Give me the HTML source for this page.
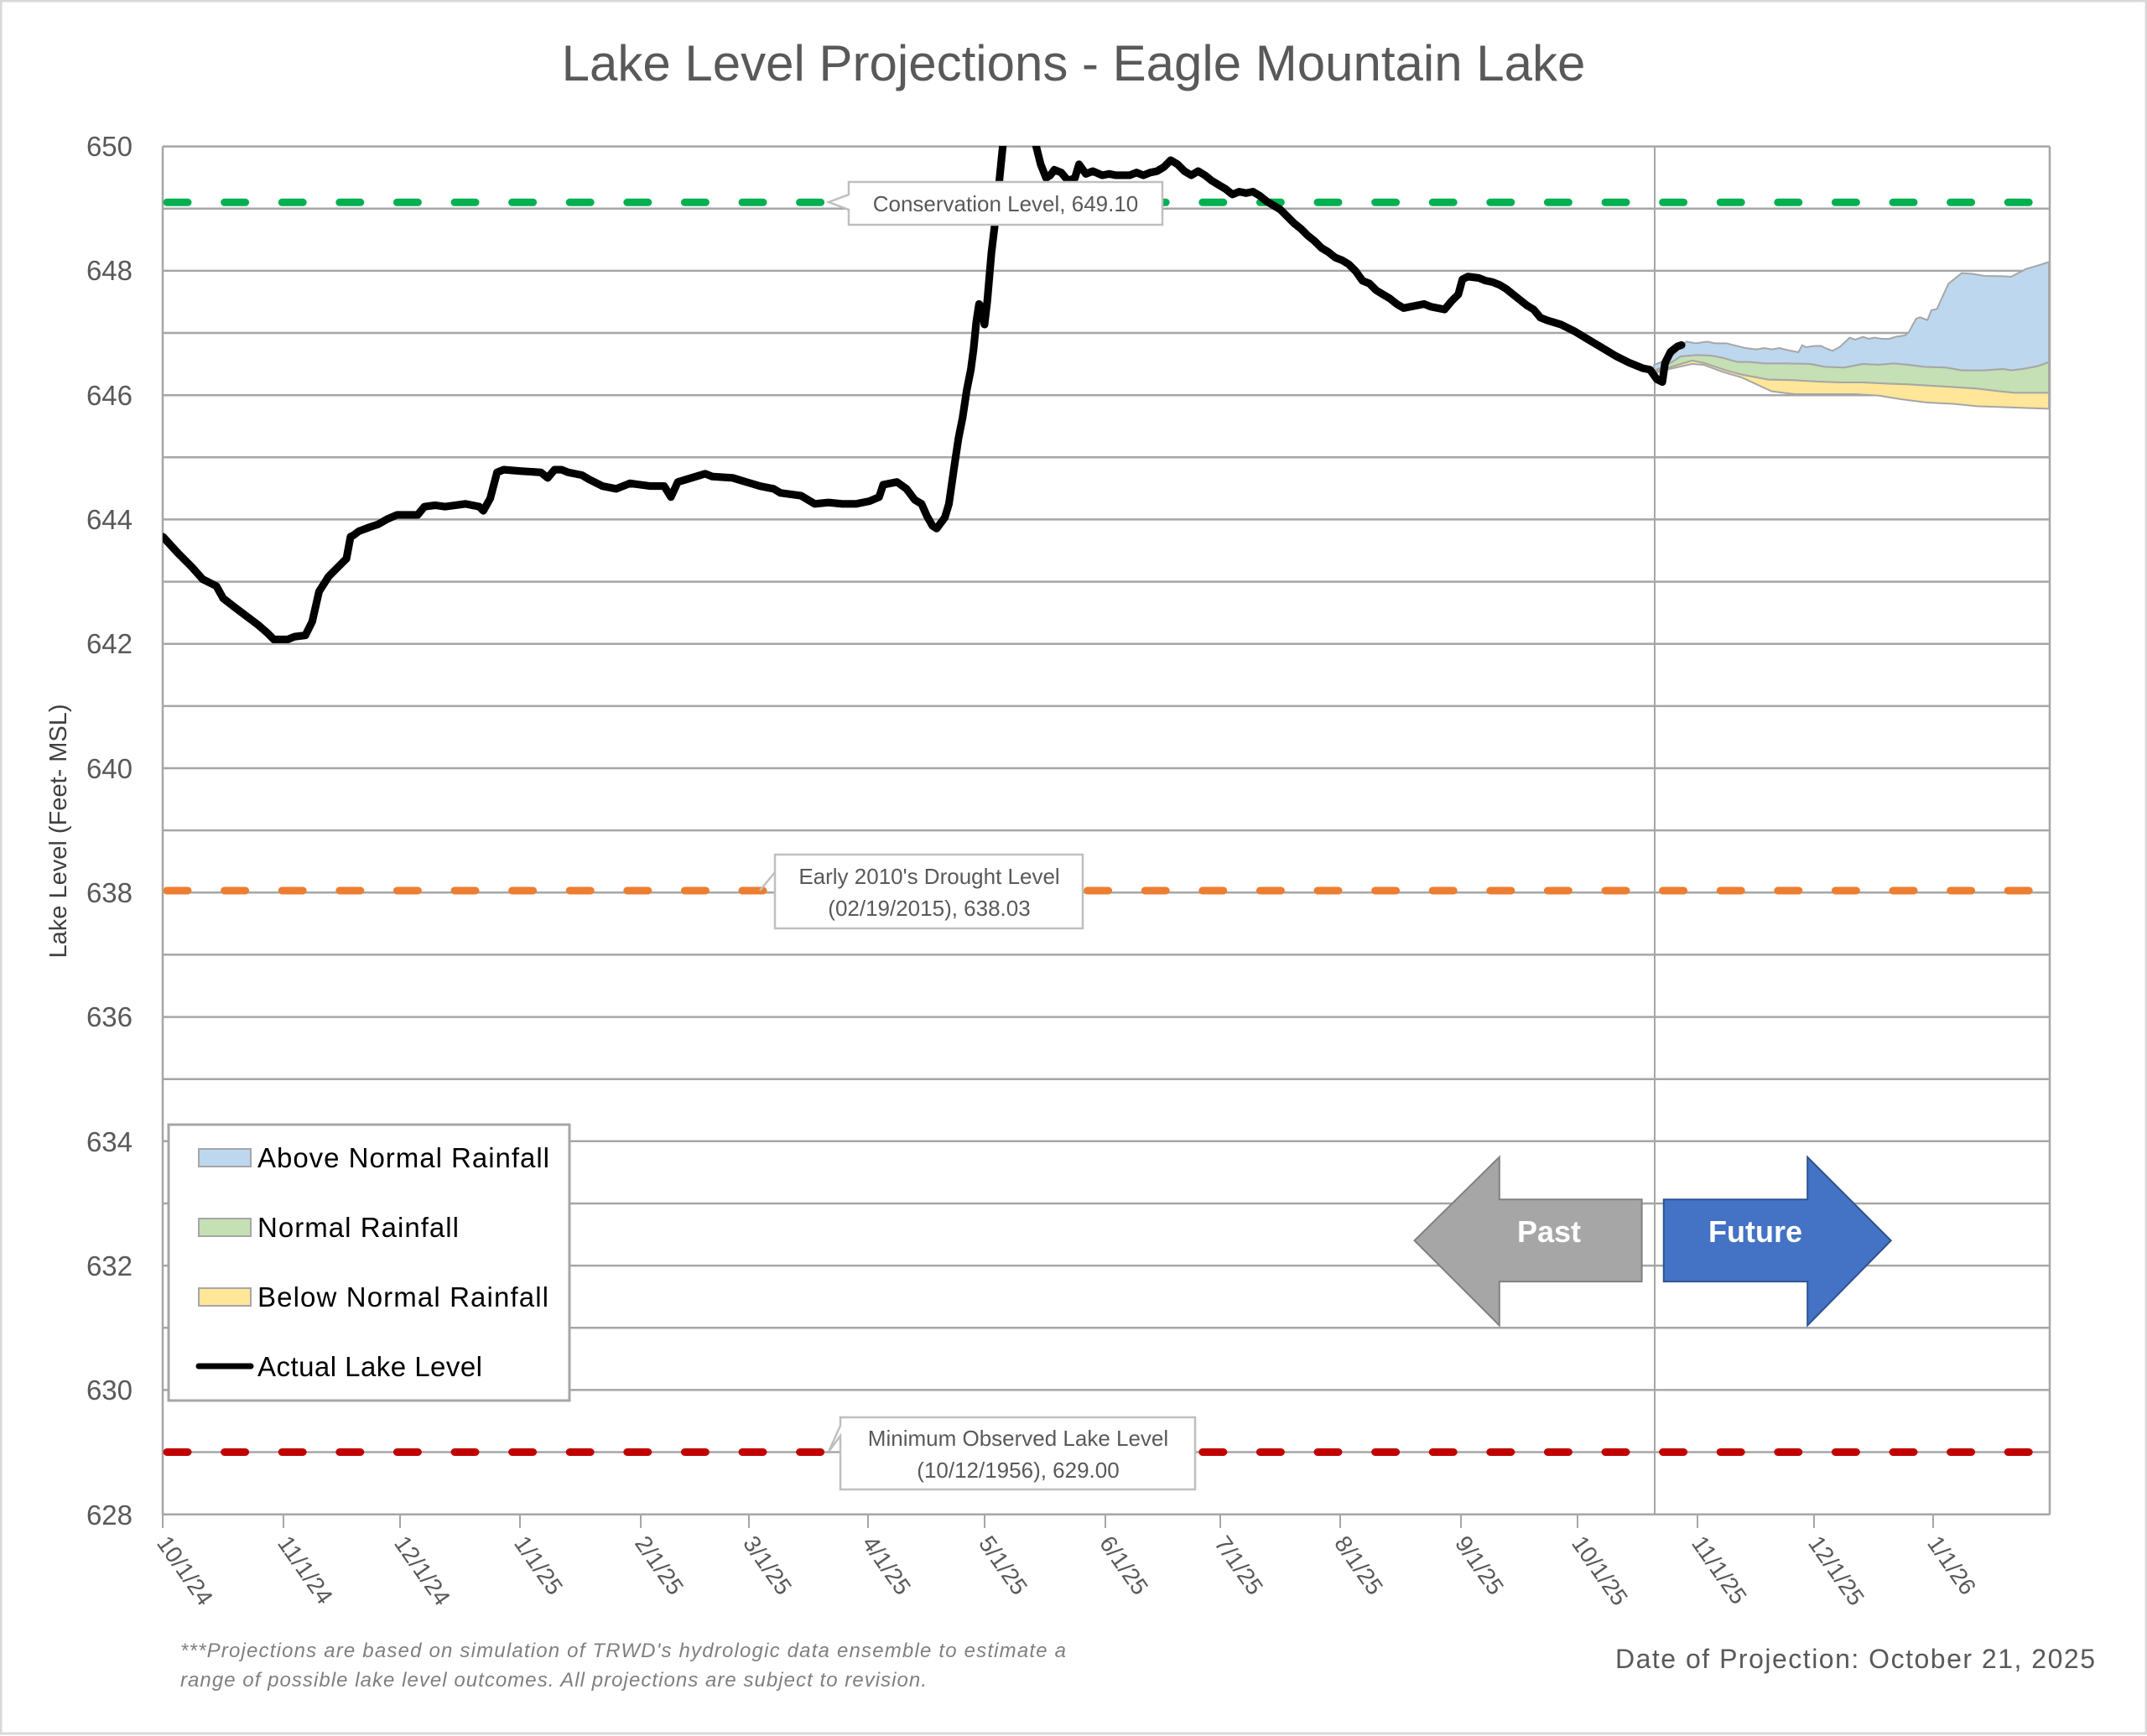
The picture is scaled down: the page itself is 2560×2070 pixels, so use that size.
<!DOCTYPE html>
<html><head><meta charset="utf-8"><style>
html,body{margin:0;padding:0;background:#fff}
svg{display:block}
text{font-family:"Liberation Sans",sans-serif}
</style></head><body>
<svg width="2560" height="2070" viewBox="0 0 2560 2070" xmlns="http://www.w3.org/2000/svg">
<rect x="1" y="1" width="2558" height="2066" fill="#fff" stroke="#d9d9d9" stroke-width="3"/>
<text x="1280" y="96" font-size="60" fill="#595959" text-anchor="middle">Lake Level Projections - Eagle Mountain Lake</text>
<defs><clipPath id="pc"><rect x="194" y="174" width="2250" height="1634"/></clipPath></defs>
<g stroke="#a6a6a6" stroke-width="2.5">
<line x1="194" x2="2444" y1="174.6" y2="174.6"/><line x1="194" x2="2444" y1="248.7" y2="248.7"/>
<line x1="194" x2="2444" y1="322.9" y2="322.9"/><line x1="194" x2="2444" y1="397" y2="397"/>
<line x1="194" x2="2444" y1="471.2" y2="471.2"/><line x1="194" x2="2444" y1="545.3" y2="545.3"/>
<line x1="194" x2="2444" y1="619.4" y2="619.4"/><line x1="194" x2="2444" y1="693.6" y2="693.6"/>
<line x1="194" x2="2444" y1="767.7" y2="767.7"/><line x1="194" x2="2444" y1="841.9" y2="841.9"/>
<line x1="194" x2="2444" y1="916" y2="916"/><line x1="194" x2="2444" y1="990.1" y2="990.1"/>
<line x1="194" x2="2444" y1="1064.3" y2="1064.3"/><line x1="194" x2="2444" y1="1138.4" y2="1138.4"/>
<line x1="194" x2="2444" y1="1212.6" y2="1212.6"/><line x1="194" x2="2444" y1="1286.7" y2="1286.7"/>
<line x1="194" x2="2444" y1="1360.8" y2="1360.8"/><line x1="194" x2="2444" y1="1435" y2="1435"/>
<line x1="194" x2="2444" y1="1509.1" y2="1509.1"/><line x1="194" x2="2444" y1="1583.3" y2="1583.3"/>
<line x1="194" x2="2444" y1="1657.4" y2="1657.4"/><line x1="194" x2="2444" y1="1731.5" y2="1731.5"/>
<line x1="194" x2="2444" y1="1805.7" y2="1805.7"/>
<line x1="194" x2="194" y1="174.6" y2="1806"/><line x1="2444" x2="2444" y1="174.6" y2="1806"/>
<line x1="1973" x2="1973" y1="174.6" y2="1806" stroke-width="2"/>
</g>
<g stroke="#a6a6a6" stroke-width="2">
<line x1="194" x2="194" y1="1806" y2="1822"/><line x1="338" x2="338" y1="1806" y2="1822"/>
<line x1="477" x2="477" y1="1806" y2="1822"/><line x1="620" x2="620" y1="1806" y2="1822"/>
<line x1="764" x2="764" y1="1806" y2="1822"/><line x1="893" x2="893" y1="1806" y2="1822"/>
<line x1="1035" x2="1035" y1="1806" y2="1822"/><line x1="1174" x2="1174" y1="1806" y2="1822"/>
<line x1="1318" x2="1318" y1="1806" y2="1822"/><line x1="1455" x2="1455" y1="1806" y2="1822"/>
<line x1="1598" x2="1598" y1="1806" y2="1822"/><line x1="1742" x2="1742" y1="1806" y2="1822"/>
<line x1="1881" x2="1881" y1="1806" y2="1822"/><line x1="2024" x2="2024" y1="1806" y2="1822"/>
<line x1="2163" x2="2163" y1="1806" y2="1822"/><line x1="2305" x2="2305" y1="1806" y2="1822"/>
</g>
<g font-size="33" fill="#595959" text-anchor="end">
<text x="158" y="186">650</text><text x="158" y="334">648</text><text x="158" y="483">646</text>
<text x="158" y="631">644</text><text x="158" y="779">642</text><text x="158" y="928">640</text>
<text x="158" y="1076">638</text><text x="158" y="1224">636</text><text x="158" y="1373">634</text>
<text x="158" y="1521">632</text><text x="158" y="1669">630</text><text x="158" y="1818">628</text>
</g>
<text transform="translate(79,991) rotate(-90)" font-size="29" fill="#404040" text-anchor="middle">Lake Level (Feet- MSL)</text>
<g font-size="28" fill="#595959">
<text transform="translate(186,1840) rotate(55)">10/1/24</text>
<text transform="translate(330,1840) rotate(55)">11/1/24</text>
<text transform="translate(469,1840) rotate(55)">12/1/24</text>
<text transform="translate(612,1840) rotate(55)">1/1/25</text>
<text transform="translate(756,1840) rotate(55)">2/1/25</text>
<text transform="translate(885,1840) rotate(55)">3/1/25</text>
<text transform="translate(1027,1840) rotate(55)">4/1/25</text>
<text transform="translate(1166,1840) rotate(55)">5/1/25</text>
<text transform="translate(1310,1840) rotate(55)">6/1/25</text>
<text transform="translate(1447,1840) rotate(55)">7/1/25</text>
<text transform="translate(1590,1840) rotate(55)">8/1/25</text>
<text transform="translate(1734,1840) rotate(55)">9/1/25</text>
<text transform="translate(1873,1840) rotate(55)">10/1/25</text>
<text transform="translate(2016,1840) rotate(55)">11/1/25</text>
<text transform="translate(2155,1840) rotate(55)">12/1/25</text>
<text transform="translate(2297,1840) rotate(55)">1/1/26</text>
</g>
<g stroke-width="9" stroke-linecap="round" stroke-dasharray="25 43.6" fill="none">
<line x1="199" x2="2440" y1="241.3" y2="241.3" stroke="#00b050"/>
<line x1="199" x2="2440" y1="1062" y2="1062" stroke="#ed7d31"/>
<line x1="199" x2="2440" y1="1731.5" y2="1731.5" stroke="#c00000"/>
</g>
<g transform="translate(1850,250) scale(0.45281,0.33333)" stroke="#a6a6a6" stroke-width="2">
<path vector-effect="non-scaling-stroke" fill="#bdd7ee" d="M270,555 290,545 320,520 355,472 380,478 410,472 430,478 460,478 490,488 510,495 540,500 560,495 580,500 600,495 620,502 650,510 660,485 670,492 690,488 710,487 720,495 740,505 760,490 785,458 800,465 820,455 835,462 850,458 870,462 890,462 905,455 930,450 940,440 960,390 970,385 990,395 1000,360 1015,355 1045,265 1080,227 1110,230 1140,237 1190,238 1210,240 1250,212 1280,200 1310,187 L1310,545 1280,560 1240,570 1210,575 1190,570 1140,575 1080,575 1040,565 980,562 940,555 900,550 860,555 820,552 770,565 720,562 680,552 620,550 560,550 520,545 490,545 450,530 420,522 380,520 340,530 300,560 270,575Z"/>
<path vector-effect="non-scaling-stroke" fill="#c5e0b4" d="M270,575 300,560 340,525 380,520 420,522 450,530 490,545 520,545 560,550 620,550 680,552 720,562 770,565 820,552 860,555 900,550 940,555 980,562 1040,565 1080,575 1140,575 1190,570 1210,575 1240,570 1280,560 1310,545 L1310,655 1220,655 1180,650 1120,640 1060,635 1000,630 940,625 880,622 820,618 760,618 700,615 640,610 570,608 500,590 460,575 400,548 370,540 320,560 270,580Z"/>
<path vector-effect="non-scaling-stroke" fill="#ffe699" d="M270,580 320,560 370,540 400,548 460,575 500,590 570,608 640,610 700,615 760,618 820,618 880,622 940,625 1000,630 1060,635 1120,640 1180,650 1220,655 1310,655 L1310,712 1260,710 1200,707 1120,703 1060,695 990,690 920,678 860,665 800,660 720,660 640,660 580,650 500,600 450,580 400,555 370,552 310,570 270,585Z"/>
</g>
<g clip-path="url(#pc)">
<polyline transform="scale(1.6327)" fill="none" stroke="#000" stroke-width="5.6" stroke-linejoin="round" stroke-linecap="round" points="119,392 130,404 140,414 148,423 158,428 163,437 172,444 180,450 188,456 195,462 200,467 210,467 215,465 223,464 228,454 233,432 240,421 248,413 253,408 256,392 258,391 262,388 270,385 276,383 283,379 290,376 305,376 310,370 318,369 325,370 340,368 350,370 353,373 358,364 363,345 368,343 380,344 395,345 400,349 405,343 410,343 415,345 425,347 430,350 440,355 450,357 460,353 475,355 485,355 490,363 495,352 505,349 515,346 520,348 535,349 545,352 555,355 565,357 570,360 585,362 595,368 605,367 615,368 625,368 635,366 642,363 645,354 655,352 662,357 668,365 673,368 677,377 681,384 684,386 690,378 693,368 697,340 700,320 703,305 706,285 709,270 711,255 713,235 715,222 717,225 719,237 721,220 724,185 727,160 730,130 733,100 738,96 745,102 752,101 756,104 760,120 764,130 767,128 770,124 775,126 780,132 785,130 788,120 793,127 798,125 805,128 810,127 815,128 820,128 825,128 830,126 835,128 840,126 845,125 850,122 855,117 860,120 865,125 870,128 875,125 880,128 885,132 890,135 895,138 900,142 905,140 910,141 915,140 920,143 925,147 930,150 935,153 940,158 945,163 950,167 955,172 960,176 965,181 970,184 975,188 980,190 985,193 990,198 995,205 1000,207 1005,212 1010,215 1015,218 1020,222 1025,225 1030,224 1040,222 1045,224 1055,226 1060,220 1065,215 1068,204 1072,202 1080,203 1085,205 1090,206 1095,208 1100,211 1105,215 1110,219 1115,223 1120,226 1125,232 1130,234 1140,237 1150,242 1160,248 1170,254 1180,260 1190,265 1200,269 1205,270 1210,277 1214,279 1216,265 1220,257 1225,253 1228,252"/>
</g>
<g stroke="#bfbfbf" stroke-width="2.5" fill="#fff">
<path d="M1012,217 H1386 V268 H1012 V250 L988,241 L1012,232Z"/>
<path d="M924,1019 H1291 V1107 H924 V1063 Z M924,1040 L906,1062" />
<path d="M1002,1690 H1425 V1776 H1002 V1712 L988,1731 L1002,1700Z"/>
</g>
<g font-size="26" fill="#595959" text-anchor="middle">
<text x="1199" y="252">Conservation Level, 649.10</text>
<text x="1108" y="1054">Early 2010's Drought Level</text>
<text x="1108" y="1092">(02/19/2015), 638.03</text>
<text x="1214" y="1724">Minimum Observed Lake Level</text>
<text x="1214" y="1762">(10/12/1956), 629.00</text>
</g>
<rect x="201" y="1341" width="478" height="329" fill="#fff" stroke="#a6a6a6" stroke-width="3"/>
<rect x="237" y="1370" width="62" height="21" fill="#bdd7ee" stroke="#a6a6a6" stroke-width="2"/>
<rect x="237" y="1453" width="62" height="21" fill="#c5e0b4" stroke="#a6a6a6" stroke-width="2"/>
<rect x="237" y="1536" width="62" height="21" fill="#ffe699" stroke="#a6a6a6" stroke-width="2"/>
<line x1="237" x2="299" y1="1629" y2="1629" stroke="#000" stroke-width="7" stroke-linecap="round"/>
<g font-size="33" fill="#000">
<text x="307" y="1392" textLength="348">Above Normal Rainfall</text>
<text x="307" y="1475" textLength="240">Normal Rainfall</text>
<text x="307" y="1558" textLength="347">Below Normal Rainfall</text>
<text x="307" y="1641" textLength="268">Actual Lake Level</text>
</g>
<polygon transform="scale(1.6327)" points="1033,906 1095,845 1095,876 1199,876 1199,936 1095,936 1095,968" fill="#a6a6a6" stroke="#7f7f7f" stroke-width="1.2"/>
<polygon transform="scale(1.6327)" points="1215,876 1320,876 1320,845 1381,906 1320,968 1320,936 1215,936" fill="#4472c4" stroke="#2f528f" stroke-width="1.2"/>
<text x="1847" y="1481" font-size="36" font-weight="bold" fill="#fff" text-anchor="middle">Past</text>
<text x="2093" y="1481" font-size="36" font-weight="bold" fill="#fff" text-anchor="middle">Future</text>
<g font-size="24" fill="#7f7f7f" font-style="italic">
<text x="215" y="1976" textLength="1056">***Projections are based on simulation of TRWD's hydrologic data ensemble to estimate a</text>
<text x="215" y="2011" textLength="890">range of possible lake level outcomes.  All projections are subject to revision.</text>
</g>
<text x="2498" y="1989" font-size="32" fill="#595959" text-anchor="end" textLength="572">Date of Projection: October 21, 2025</text>
</svg>
</body></html>
